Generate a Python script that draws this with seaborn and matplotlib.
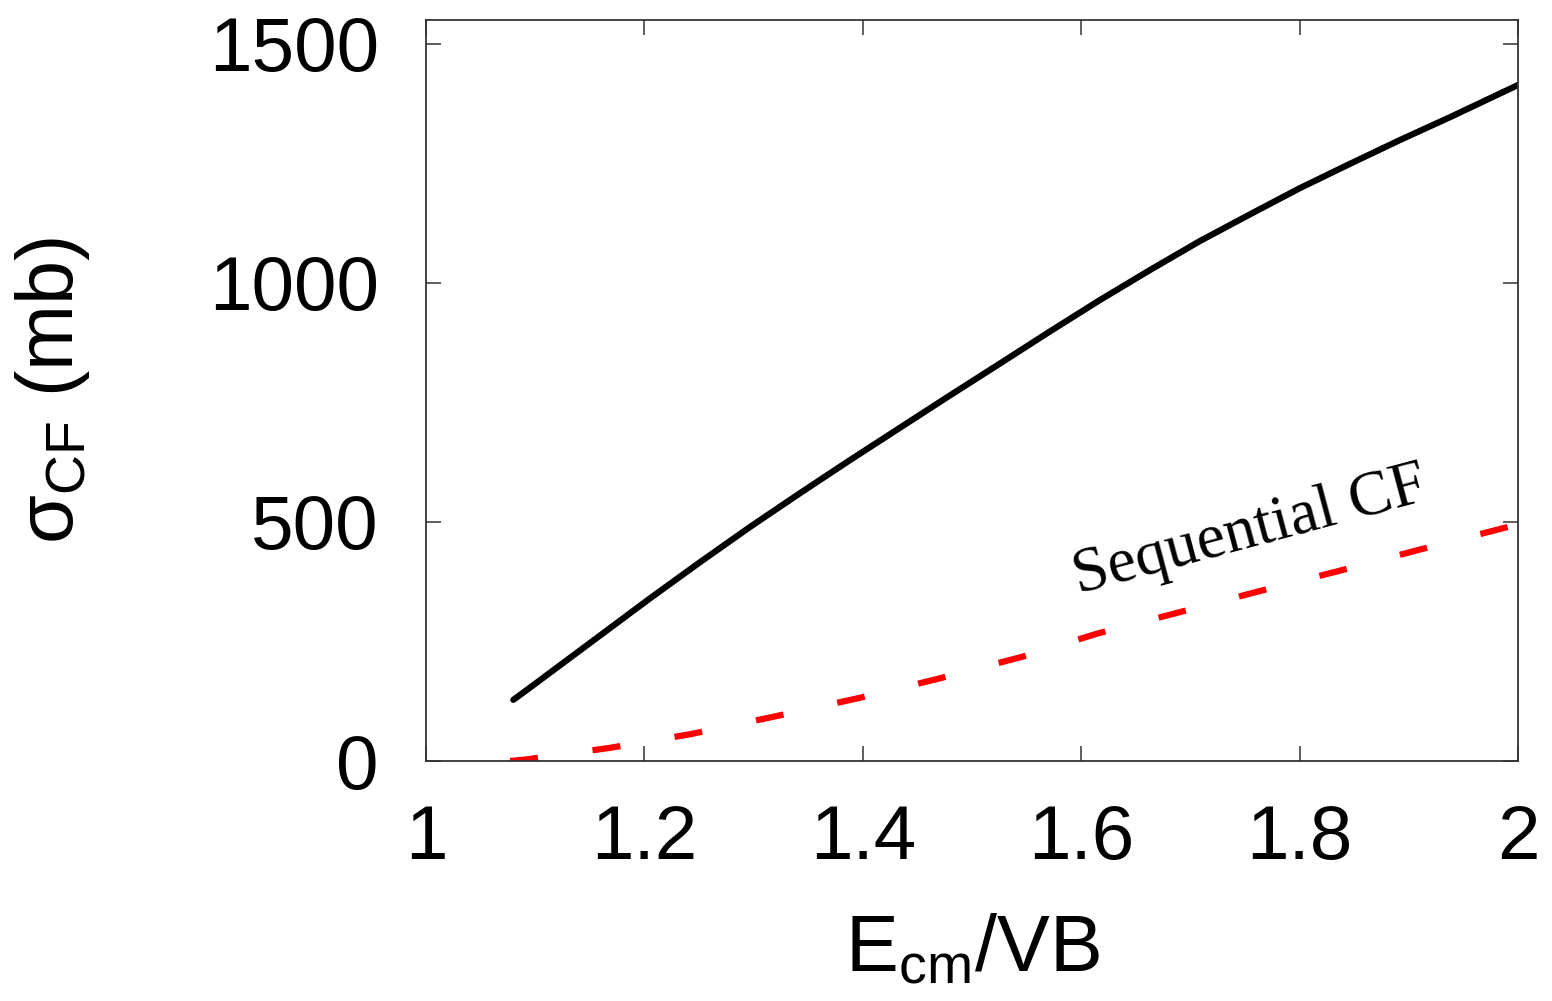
import matplotlib
matplotlib.use("Agg")
import matplotlib.pyplot as plt
import seaborn as sns
import pandas as pd

sns.set_theme(style="ticks")
plt.rcParams['font.family'] = ['Liberation Sans', 'DejaVu Sans']
plt.rcParams['mathtext.fontset'] = 'custom'
plt.rcParams['mathtext.rm'] = 'Liberation Sans'
plt.rcParams['mathtext.it'] = 'Liberation Sans:italic'
plt.rcParams['text.color'] = 'black'
plt.rcParams['axes.labelcolor'] = 'black'
plt.rcParams['xtick.labelcolor'] = 'black'
plt.rcParams['ytick.labelcolor'] = 'black'

# total complete fusion (black solid)
x_total = [1.080, 1.092, 1.205, 1.251, 1.297, 1.343, 1.388, 1.434, 1.480, 1.526,
           1.571, 1.617, 1.663, 1.709, 1.755, 1.800, 1.846, 1.892, 1.938, 2.0]
y_total = [128, 148, 340, 416, 490, 561, 629, 697, 765, 832,
           898, 964, 1027, 1088, 1144, 1198, 1249, 1299, 1347, 1414]
# sequential CF (red dashed)
x_seq = [1.077, 1.091, 1.167, 1.242, 1.317, 1.395, 1.469, 1.546, 1.614, 1.688,
         1.761, 1.835, 1.908, 1.983, 2.0]
y_seq = [0, 3, 27, 56, 92, 131, 172, 218, 266, 310, 354, 397, 441, 485, 495]

x_ticks = [1, 1.2, 1.4, 1.6, 1.8, 2]
x_ticklabels = ["1", "1.2", "1.4", "1.6", "1.8", "2"]
y_ticks = [0, 500, 1000, 1500]

df_tot = pd.DataFrame({"x": x_total, "y": y_total})
df_seq = pd.DataFrame({"x": x_seq, "y": y_seq})

fig = plt.figure(figsize=(15.52, 10.01), dpi=100)
ax = fig.add_axes([426/1552, 1 - 761/1001, (1518-426)/1552, (761-20)/1001])

sns.lineplot(data=df_tot, x="x", y="y", ax=ax, color="black", lw=4.5)
sns.lineplot(data=df_seq, x="x", y="y", ax=ax, color="#ff0000", lw=4.5)
ax.lines[0].set_solid_joinstyle("round")
ax.lines[-1].set_dashes([4.5, 8.8])

ax.set_xlim(1, 2)
ax.set_ylim(0, 1550)
ax.set_xticks(x_ticks)
ax.set_xticklabels(x_ticklabels)
ax.set_yticks(y_ticks)
ax.tick_params(direction="in", length=11, width=1.1, labelsize=55, color="#333333",
               top=True, right=True)
ax.tick_params(axis="y", pad=34)
ax.tick_params(axis="x", pad=31)
for s in ax.spines.values():
    s.set_color("#333333")
    s.set_linewidth(1.3)

ax.set_xlabel(r"E$_{\mathrm{cm}}$/VB", fontsize=57, labelpad=27)
ax.set_ylabel(r"σ$_{\mathrm{CF}}$ (mb)", fontsize=57, labelpad=84)

ax.text(1.597, 350, "Sequential CF", fontsize=46, family="Liberation Serif",
        color="black", rotation=15, ha="left", va="baseline", rotation_mode="anchor")

fig.savefig("out.png", dpi=100)
